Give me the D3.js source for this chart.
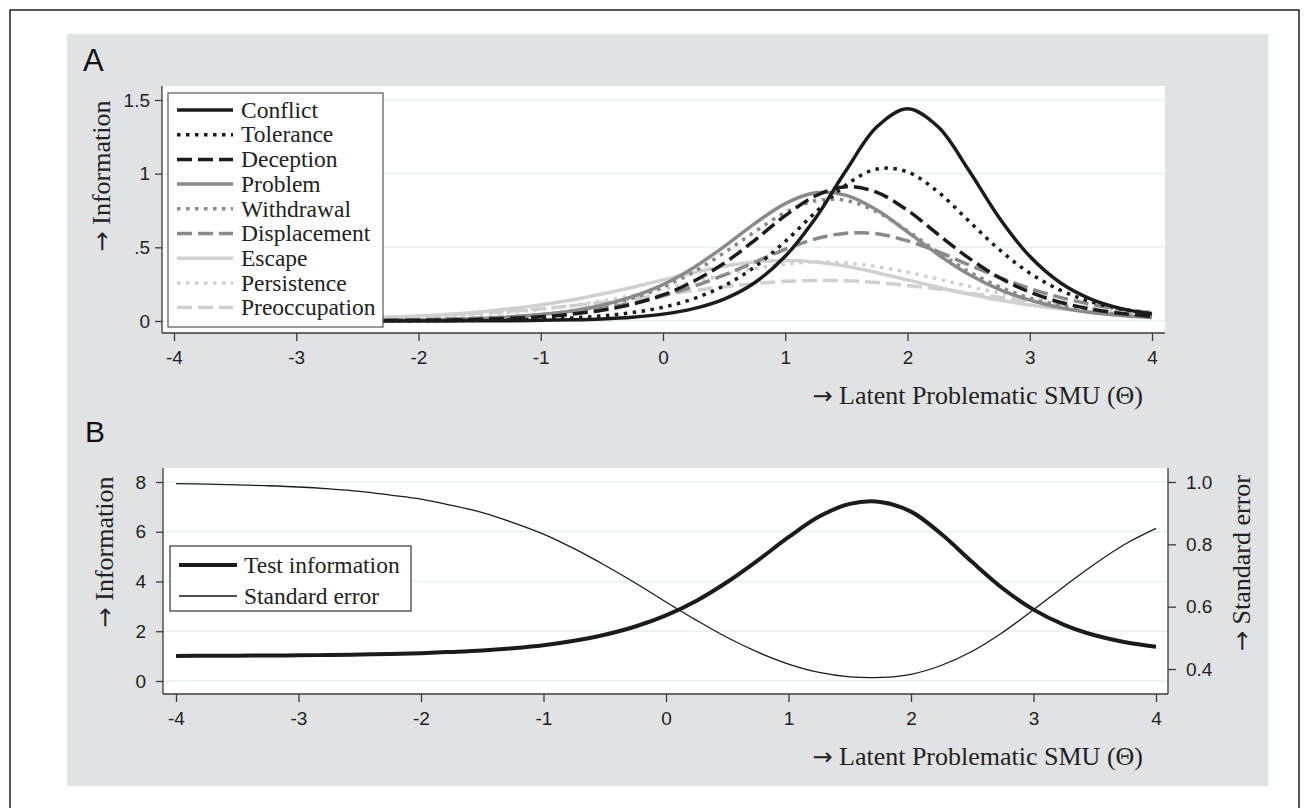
<!DOCTYPE html>
<html>
<head>
<meta charset="utf-8">
<script src="https://cdn.jsdelivr.net/npm/d3@7"></script>
<style>
  body { margin: 0; background: #fff; }
  svg { display: block; }
</style>
</head>
<body>
<div id="chart"></div>
<script>
// item + test information curves (theta step .25)
const theta = [-4,-3.75,-3.5,-3.25,-3,-2.75,-2.5,-2.25,-2,-1.75,-1.5,-1.25,-1,-0.75,-0.5,-0.25,0,0.25,0.5,0.75,1,1.25,1.5,1.75,2,2.25,2.5,2.75,3,3.25,3.5,3.75,4];

const conflict      = [0,0,0,0,0,0.0001,0.0001,0.0002,0.0004,0.0007,0.0013,0.0024,0.0043,0.0078,0.0142,0.0258,0.0466,0.0839,0.149,0.260,0.439,0.701,1.025,1.318,1.44,1.318,1.025,0.701,0.439,0.260,0.149,0.084,0.047];
const tolerance     = [0,0,0.0001,0.0001,0.0002,0.0004,0.0006,0.0010,0.0017,0.0027,0.0046,0.0076,0.0126,0.0210,0.0347,0.0571,0.0932,0.151,0.239,0.367,0.540,0.740,0.925,1.032,1.012,0.876,0.680,0.485,0.325,0.209,0.131,0.081,0.049];
const deception     = [0.0001,0.0001,0.0002,0.0004,0.0006,0.0010,0.0016,0.0027,0.0043,0.0070,0.0111,0.0179,0.0287,0.0459,0.0725,0.114,0.177,0.269,0.392,0.548,0.715,0.850,0.912,0.873,0.751,0.588,0.428,0.295,0.196,0.127,0.081,0.051,0.032];
const problem       = [0.0002,0.0003,0.0004,0.0007,0.0011,0.0017,0.0027,0.0043,0.0069,0.0110,0.0175,0.0278,0.0436,0.0686,0.107,0.165,0.247,0.362,0.505,0.661,0.797,0.870,0.853,0.753,0.605,0.451,0.317,0.215,0.142,0.091,0.058,0.037,0.024];
const withdrawal    = [0.0002,0.0003,0.0005,0.0007,0.0011,0.0018,0.0028,0.0045,0.0070,0.0110,0.0174,0.0271,0.0425,0.0657,0.102,0.154,0.230,0.332,0.463,0.605,0.736,0.816,0.818,0.740,0.611,0.468,0.337,0.234,0.156,0.104,0.067,0.043,0.028];
const displacement  = [0.0004,0.0006,0.0009,0.0013,0.0019,0.0028,0.0042,0.0061,0.0090,0.0132,0.0193,0.0282,0.0412,0.0598,0.0858,0.122,0.171,0.235,0.312,0.399,0.487,0.558,0.596,0.592,0.544,0.470,0.382,0.296,0.221,0.160,0.114,0.080,0.055];
const escape        = [0.0027,0.0038,0.0051,0.0071,0.0097,0.0133,0.0182,0.0248,0.0338,0.0458,0.0618,0.0825,0.109,0.142,0.183,0.229,0.279,0.328,0.371,0.400,0.410,0.400,0.371,0.328,0.279,0.229,0.183,0.142,0.109,0.0825,0.0618,0.0458,0.0338];
const persistence   = [0.0020,0.0027,0.0037,0.0050,0.0069,0.0095,0.0128,0.0176,0.0240,0.0323,0.0440,0.0587,0.0784,0.104,0.135,0.173,0.217,0.265,0.313,0.356,0.386,0.400,0.394,0.369,0.331,0.285,0.236,0.190,0.150,0.115,0.088,0.066,0.049];
const preoccupation = [0.0042,0.0054,0.0070,0.0092,0.0118,0.0153,0.0197,0.0253,0.0325,0.0414,0.0526,0.0663,0.0830,0.103,0.126,0.151,0.179,0.206,0.232,0.254,0.269,0.275,0.273,0.261,0.241,0.217,0.190,0.162,0.136,0.112,0.091,0.073,0.060];

const testInfo = [1.010,1.013,1.018,1.024,1.033,1.046,1.063,1.087,1.12,1.17,1.23,1.32,1.44,1.62,1.86,2.19,2.64,3.23,3.98,4.85,5.78,6.61,7.12,7.20,6.81,5.90,4.78,3.72,2.87,2.26,1.84,1.56,1.38];
const stdError = [0.995,0.993,0.991,0.988,0.984,0.978,0.970,0.958,0.945,0.925,0.902,0.870,0.833,0.786,0.733,0.676,0.615,0.556,0.501,0.454,0.416,0.389,0.375,0.373,0.383,0.412,0.457,0.518,0.590,0.665,0.737,0.801,0.851];

const itemNames = ['Conflict','Tolerance','Deception','Problem','Withdrawal','Displacement','Escape','Persistence','Preoccupation'];
const itemValues = [conflict, tolerance, deception, problem, withdrawal, displacement, escape, persistence, preoccupation];
const xTicks = [-4,-3,-2,-1,0,1,2,3,4];
const yTicksA = [0, 0.5, 1, 1.5];
const yTickLabelsA = ['0', '.5', '1', '1.5'];
const yTicksB = [0, 2, 4, 6, 8];
const seTicks = [0.4, 0.6, 0.8, 1.0];

(function(){
  const W = 1309, H = 808;
  const serif = '"Liberation Serif", "Times New Roman", serif';
  const sans = '"Liberation Sans", Arial, sans-serif';
  const arrowFont = '"DejaVu Sans", sans-serif';
  const axisCol = '#3a3a3a', gridCol = '#e8f0f2';

  const svg = d3.select('#chart').append('svg').attr('width', W).attr('height', H);

  // title with a sans arrow glyph in front (the serif arrow is tiny)
  function arrowTitle(sel, label){
    sel.attr('font-family', serif).attr('font-size', 26).attr('fill', '#222');
    sel.append('tspan').attr('font-family', arrowFont).attr('font-size', 24).text('\u2192');
    sel.append('tspan').text('\u00a0' + label);
    return sel;
  }

  // outer frame + grey graph region
  svg.append('rect').attr('x', 10).attr('y', 10).attr('width', 1289).attr('height', 820)
    .attr('fill', '#fff').attr('stroke', '#222').attr('stroke-width', 1.5);
  svg.append('rect').attr('x', 67).attr('y', 34).attr('width', 1201).attr('height', 752)
    .attr('fill', '#e1e2e4').attr('stroke', '#e9eff1').attr('stroke-width', 1);

  // styles per item: colour + dash
  const black = '#1b1b1b', mid = '#8a8a8a', light = '#d0d0d0';
  const dot = '3.5,5.5', dash = '15,6';
  const styles = [
    {c: black, d: null}, {c: black, d: dot}, {c: black, d: dash},
    {c: mid, d: null},   {c: mid, d: dot},   {c: mid, d: dash},
    {c: light, d: null}, {c: light, d: dot}, {c: light, d: dash}
  ];
  const fmtTick = d => String(d);

  // ---------- panel A ----------
  const A = {l: 162, r: 1165, t: 86, b: 333};
  const xA = d3.scaleLinear().domain([-4, 4]).range([174, 1152]);
  const yA = d3.scaleLinear().domain([0, 1.5]).range([321, 100]);

  svg.append('rect').attr('x', A.l).attr('y', A.t).attr('width', A.r - A.l).attr('height', A.b - A.t).attr('fill', '#fff');

  svg.append('g').selectAll('line').data(yTicksA).enter().append('line')
    .attr('x1', A.l).attr('x2', A.r).attr('y1', d => yA(d)).attr('y2', d => yA(d))
    .attr('stroke', gridCol).attr('stroke-width', 1.5);

  const lineA = d3.line().x((d, i) => xA(theta[i])).y(d => yA(d)).curve(d3.curveCatmullRom.alpha(0.5));
  const gA = svg.append('g');
  // light items first so black lines sit on top
  for (let k = itemValues.length - 1; k >= 0; k--) {
    gA.append('path').datum(itemValues[k]).attr('d', lineA)
      .attr('fill', 'none').attr('stroke', styles[k].c).attr('stroke-width', 3.5)
      .attr('stroke-dasharray', styles[k].d);
  }

  const axAy = svg.append('g').attr('transform', `translate(${A.l},0)`)
    .call(d3.axisLeft(yA).tickValues(yTicksA).tickFormat((d, i) => yTickLabelsA[i]).tickSize(7).tickPadding(5));
  const axAx = svg.append('g').attr('transform', `translate(0,${A.b})`)
    .call(d3.axisBottom(xA).tickValues(xTicks).tickFormat(fmtTick).tickSize(8).tickPadding(10));
  [axAy, axAx].forEach(g => {
    g.select('.domain').attr('stroke', axisCol).attr('stroke-width', 1.3);
    g.selectAll('.tick line').attr('stroke', axisCol).attr('stroke-width', 1.3);
    g.selectAll('.tick text').attr('font-family', sans).attr('font-size', 19).attr('fill', '#222');
  });
  axAx.select('.domain').attr('d', `M${A.l},0H${A.r}`);
  axAy.select('.domain').attr('d', `M0,${A.t}V${A.b}`);

  // legend A
  const legA = svg.append('g');
  legA.append('rect').attr('x', 168).attr('y', 93).attr('width', 215).attr('height', 234)
    .attr('fill', '#fff').attr('stroke', '#555').attr('stroke-width', 1.2);
  itemNames.forEach((name, i) => {
    const y = 110 + i * 24.7;
    legA.append('line').attr('x1', 177).attr('x2', 233).attr('y1', y).attr('y2', y)
      .attr('stroke', styles[i].c).attr('stroke-width', 3.5).attr('stroke-dasharray', styles[i].d);
    legA.append('text').attr('x', 241).attr('y', y).attr('dy', '0.33em')
      .attr('font-family', serif).attr('font-size', 23.5).attr('fill', '#222').text(name);
  });

  svg.append('text').attr('x', 83).attr('y', 71).attr('font-family', sans).attr('font-size', 31).attr('fill', '#111').text('A');
  svg.append('text').attr('transform', 'translate(110,176) rotate(-90)').attr('text-anchor', 'middle')
    .call(arrowTitle, 'Information');
  svg.append('text').attr('x', 1143).attr('y', 404).attr('text-anchor', 'end')
    .call(arrowTitle, 'Latent Problematic SMU (\u0398)');

  // ---------- panel B ----------
  const B = {l: 163, r: 1168, t: 468, b: 694};
  const xB = d3.scaleLinear().domain([-4, 4]).range([176, 1156]);
  const yB = d3.scaleLinear().domain([0, 8]).range([681, 482]);
  const ySE = d3.scaleLinear().domain([0.3615, 1.0]).range([681, 482]);

  svg.append('rect').attr('x', B.l).attr('y', B.t).attr('width', B.r - B.l).attr('height', B.b - B.t).attr('fill', '#fff');
  svg.append('g').selectAll('line').data(yTicksB).enter().append('line')
    .attr('x1', B.l).attr('x2', B.r).attr('y1', d => yB(d)).attr('y2', d => yB(d))
    .attr('stroke', gridCol).attr('stroke-width', 1.5);

  const lineInfo = d3.line().x((d, i) => xB(theta[i])).y(d => yB(d)).curve(d3.curveCatmullRom.alpha(0.5));
  const lineSE = d3.line().x((d, i) => xB(theta[i])).y(d => ySE(d)).curve(d3.curveCatmullRom.alpha(0.5));
  svg.append('path').datum(stdError).attr('d', lineSE).attr('fill', 'none').attr('stroke', black).attr('stroke-width', 1.3);
  svg.append('path').datum(testInfo).attr('d', lineInfo).attr('fill', 'none').attr('stroke', black).attr('stroke-width', 4);

  const axBy = svg.append('g').attr('transform', `translate(${B.l},0)`)
    .call(d3.axisLeft(yB).tickValues(yTicksB).tickSize(7).tickPadding(10));
  const axBr = svg.append('g').attr('transform', `translate(${B.r},0)`)
    .call(d3.axisRight(ySE).tickValues(seTicks).tickFormat(d3.format('.1f')).tickSize(8).tickPadding(10));
  const axBx = svg.append('g').attr('transform', `translate(0,${B.b})`)
    .call(d3.axisBottom(xB).tickValues(xTicks).tickFormat(fmtTick).tickSize(8).tickPadding(10));
  [axBy, axBr, axBx].forEach(g => {
    g.select('.domain').attr('stroke', axisCol).attr('stroke-width', 1.3);
    g.selectAll('.tick line').attr('stroke', axisCol).attr('stroke-width', 1.3);
    g.selectAll('.tick text').attr('font-family', sans).attr('font-size', 19).attr('fill', '#222');
  });
  axBx.select('.domain').attr('d', `M${B.l},0H${B.r}`);
  axBy.select('.domain').attr('d', `M0,${B.t}V${B.b}`);
  axBr.select('.domain').attr('d', `M0,${B.t}V${B.b}`);

  // legend B
  const legB = svg.append('g');
  legB.append('rect').attr('x', 170).attr('y', 546).attr('width', 241).attr('height', 65)
    .attr('fill', '#fff').attr('stroke', '#333').attr('stroke-width', 1.2);
  [['Test information', 4], ['Standard error', 1.3]].forEach((d, i) => {
    const y = 565 + i * 31;
    legB.append('line').attr('x1', 179).attr('x2', 237).attr('y1', y).attr('y2', y)
      .attr('stroke', black).attr('stroke-width', d[1]);
    legB.append('text').attr('x', 244).attr('y', y).attr('dy', '0.33em')
      .attr('font-family', serif).attr('font-size', 23.5).attr('fill', '#222').text(d[0]);
  });

  svg.append('text').attr('x', 85).attr('y', 442).attr('font-family', sans).attr('font-size', 30).attr('fill', '#111').text('B');
  svg.append('text').attr('transform', 'translate(113,552) rotate(-90)').attr('text-anchor', 'middle')
    .call(arrowTitle, 'Information');
  svg.append('text').attr('transform', 'translate(1250,563) rotate(-90)').attr('text-anchor', 'middle')
    .call(arrowTitle, 'Standard error');
  svg.append('text').attr('x', 1143).attr('y', 765).attr('text-anchor', 'end')
    .call(arrowTitle, 'Latent Problematic SMU (\u0398)');
})();
</script>
</body>
</html>
